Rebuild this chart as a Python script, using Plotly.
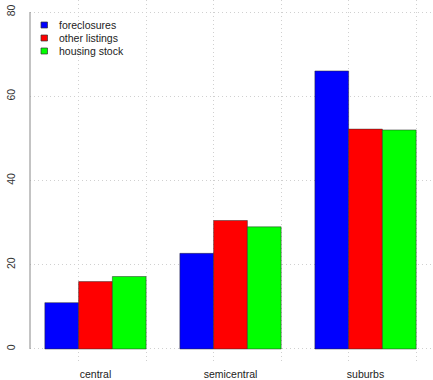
import plotly.graph_objects as go

categories = ["central", "semicentral", "suburbs"]
series_names = ["foreclosures", "other listings", "housing stock"]
foreclosures = [11.0, 22.7, 66.0]
other_listings = [16.0, 30.5, 52.2]
housing_stock = [17.2, 29.0, 52.0]
series_values = [foreclosures, other_listings, housing_stock]
series_colors = ["#0000ff", "#ff0000", "#00ff00"]
y_ticks = [0, 20, 40, 60, 80]

W, H = 433, 380
ML, MR, MT, MB = 30, 2, 0, 18
PW, PH = W - ML - MR, H - MT - MB
FONT = "Liberation Sans, Arial, sans-serif"
GRID = "#d0d0d0"
DOTS = "1px,3px"

x_idx = list(range(len(categories)))

fig = go.Figure()
for name, vals, col in zip(series_names, series_values, series_colors):
    fig.add_trace(go.Bar(
        x=x_idx, y=vals, name=name,
        marker=dict(color=col, line=dict(color="rgba(40,40,40,0.7)", width=0.7)),
        showlegend=False,
    ))

# manual legend (tight R-style spacing)
shapes = []
annotations = []
for i, (name, col) in enumerate(zip(series_names, series_colors)):
    cy = 25 + 13 * i
    x0, x1 = 41, 47.5
    shapes.append(dict(
        type="rect", xref="paper", yref="paper",
        x0=(x0 - ML) / PW, x1=(x1 - ML) / PW,
        y0=1 - (cy + 3) / PH, y1=1 - (cy - 3) / PH,
        fillcolor=col, line=dict(color="#333", width=0.7), layer="above",
    ))
    annotations.append(dict(
        x=(57 - ML) / PW, y=1 - cy / PH, xref="paper", yref="paper",
        text=name, showarrow=False, xanchor="left", yanchor="middle",
        font=dict(family=FONT, size=10.5, color="#222"),
    ))

# R-style left axis line from first to last tick
shapes.append(dict(
    type="line", xref="paper", yref="y", x0=0, x1=0,
    y0=y_ticks[0], y1=y_ticks[-1], line=dict(color="#888", width=1),
))

fig.update_layout(
    width=W, height=H,
    margin=dict(l=ML, r=MR, t=MT, b=MB, pad=0),
    paper_bgcolor="white", plot_bgcolor="white",
    barmode="group", bargap=0.25, bargroupgap=0,
    shapes=shapes, annotations=annotations,
    font=dict(family=FONT, size=10.5, color="#222"),
    xaxis=dict(
        type="linear", range=[-0.485, 2.485],
        tickmode="array", tickvals=x_idx, ticktext=categories,
        showgrid=False, zeroline=False, showline=False,
        ticks="outside", ticklen=2, tickcolor="rgba(0,0,0,0)",
        tickfont=dict(family=FONT, size=10.5, color="#222"),
        minor=dict(tickmode="linear", tick0=-0.125, dtick=0.5,
                   showgrid=True, gridcolor=GRID, griddash=DOTS, gridwidth=1),
    ),
    yaxis=dict(
        range=[-3.09, 82.85],
        tickmode="array", tickvals=y_ticks,
        tickangle=-90,
        showgrid=True, gridcolor=GRID, griddash=DOTS, gridwidth=1,
        zeroline=False, showline=False,
        ticks="outside", ticklen=10, tickcolor="rgba(0,0,0,0)",
        tickfont=dict(family=FONT, size=10.5, color="#333"),
    ),
)

fig.write_html("out.html", config={"displayModeBar": False},
               post_script="document.body.style.margin='0';")
